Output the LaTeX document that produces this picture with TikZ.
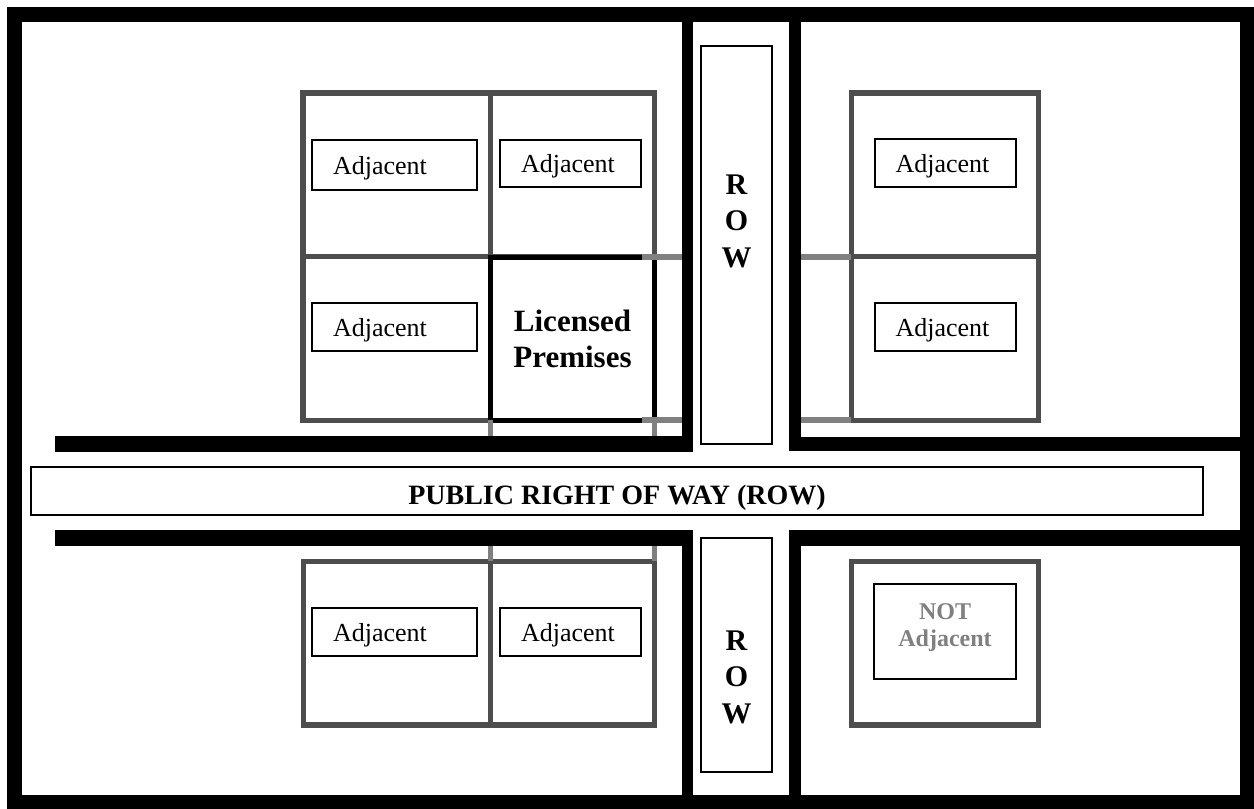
\documentclass[tikz,border=0pt]{standalone}
\usepackage{fontspec}
\setmainfont{Liberation Serif}
\usepackage{tikz}
\usetikzlibrary{positioning}

\definecolor{lotgray}{RGB}{77,77,77}
\definecolor{stubgray}{RGB}{128,128,128}

\begin{document}
\begin{tikzpicture}[
    x=1pt, y=-1pt,
    wall/.style={fill=black},
    lot/.style={draw=lotgray, line width=5.5pt},
    stub/.style={draw=stubgray, line width=6.5pt},
    adjwide/.style={draw=black, line width=2pt, align=left, text width=123pt, inner xsep=21pt, minimum height=48pt, text depth=0pt, font=\fontsize{26}{30}\selectfont},
    adjnarrow/.style={adjwide, text width=99pt},
    rowbox/.style={draw=black, line width=1.5pt, inner sep=0pt},
    rowtext/.style={font=\bfseries\fontsize{30}{36.5}\selectfont, align=center, inner sep=0pt}
]
\useasboundingbox (0,0) rectangle (1254,809);

% Lots
\draw[lot] (303,93) rectangle (654.5,420.5);
\draw[lot] (490.5,93) -- (490.5,420.5);
\draw[lot] (303,256.5) -- (654.5,256.5);
\draw[lot] (851.5,93) rectangle (1038.5,420.5);
\draw[lot] (851.5,256.5) -- (1038.5,256.5);
\draw[lot] (303.5,561.5) rectangle (654.5,725);
\draw[lot] (490.5,561.5) -- (490.5,725);
\draw[lot] (851.5,561.5) rectangle (1038.5,725);

% Licensed premises
\node[draw=black, line width=4.5pt, minimum width=164pt, minimum height=163pt, align=center,
      font=\bfseries\fontsize{31}{36}\selectfont] (licensed) at (572.5,339) {Licensed\\Premises};

% Lot lines running out to the walls
\draw[stub] (642,257) -- (690,257);
\draw[stub] (642,420) -- (690,420);
\draw[stub] (798,257) -- (851,257);
\draw[stub] (798,420) -- (851,420);
\draw[stub, line width=5.5pt] (490.5,420) -- (490.5,440);
\draw[stub, line width=5.5pt] (654.5,420) -- (654.5,440);
\draw[stub, line width=5.5pt] (490.5,540) -- (490.5,561);
\draw[stub, line width=5.5pt] (654.5,540) -- (654.5,561);

% Walls
\draw[line width=15pt] (14.5,14.5) rectangle (1247.5,802.5);
\fill[wall] (55,436) rectangle (693,452);
\fill[wall] (682,22) rectangle (693,452);
\fill[wall] (789,22) rectangle (801,451);
\fill[wall] (789,437) rectangle (1240,451);
\fill[wall] (55,530) rectangle (693,546);
\fill[wall] (682,530) rectangle (693,795);
\fill[wall] (789,530) rectangle (1240,546);
\fill[wall] (789,530) rectangle (801,795);

% Right of way
\node[rowbox, minimum width=1172pt, minimum height=48pt] (rowmid) at (617,491) {};
\node[anchor=base, inner sep=0pt, font=\bfseries\fontsize{28}{32}\selectfont] (rowmidtext) at (617,504) {PUBLIC RIGHT OF WAY (ROW)};
\node[rowbox, minimum width=71pt, minimum height=398pt] (rowtop) at (736.5,245) {};
\node[rowtext] (rowtoptext) at (736.5,221) {R\\O\\W};
\node[rowbox, minimum width=71pt, minimum height=234pt] (rowbot) at (736.5,655) {};
\node[rowtext] (rowbottext) at (736.5,677) {R\\O\\W};

% Adjacent lots
\node[adjwide, minimum height=50pt] (ulone) at (394.5,165.3) {Adjacent};
\node[adjnarrow, minimum height=46.5pt] (ultwo) at (570.5,163.3) {Adjacent};
\node[adjwide] (ulthree) at (394.5,327) {Adjacent};
\node[adjnarrow] (urone) at (945,163.3) {Adjacent};
\node[adjnarrow] (urtwo) at (945,327) {Adjacent};
\node[adjwide] (llone) at (394.5,632) {Adjacent};
\node[adjnarrow] (lltwo) at (570.5,632) {Adjacent};
\node[draw=black, line width=2pt, minimum width=142pt, minimum height=95pt, align=center, text=stubgray,
      text depth=13pt, font=\bfseries\fontsize{24}{27}\selectfont] (notadj) at (945,631.5) {NOT\\Adjacent};

\end{tikzpicture}
\end{document}
